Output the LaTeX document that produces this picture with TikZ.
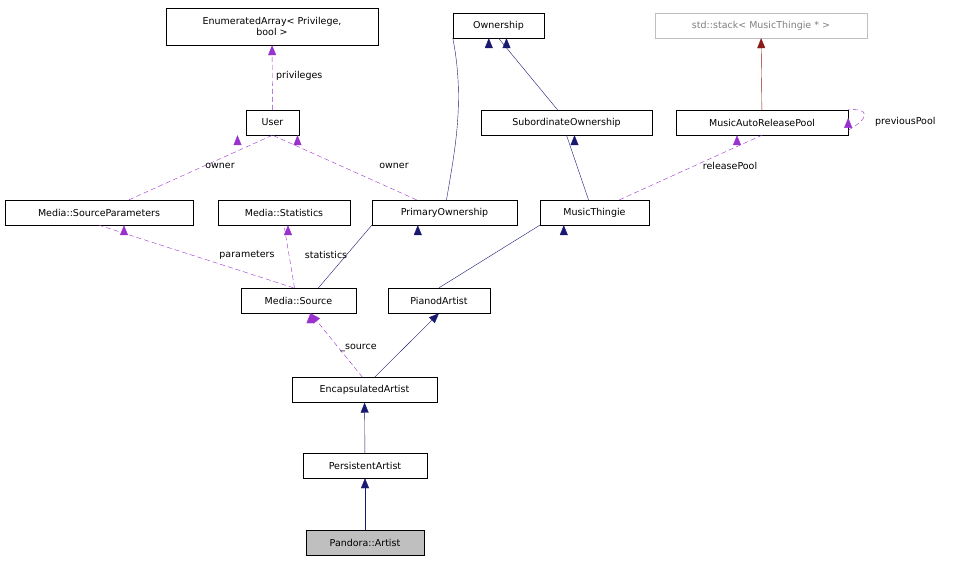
\documentclass[tikz,border=0pt]{standalone}
\usepackage{fontspec}
\setmainfont{DejaVu Sans}
\usetikzlibrary{arrows.meta}
\begin{document}
\begin{tikzpicture}[x=1pt,y=-1pt,
 box/.style={draw,rectangle,inner sep=0pt,minimum height=25pt,font=\fontsize{9.5}{11}\selectfont,fill=white},
 lbl/.style={font=\fontsize{9.5}{11}\selectfont,inner sep=1pt},
 inh/.style={draw={rgb,255:red,25;green,25;blue,112},-{Triangle[length=10pt,width=8pt]}},
 use/.style={draw={rgb,255:red,153;green,50;blue,204},dashed,dash pattern=on 5pt off 3pt,-{Triangle[length=10pt,width=8pt]}},
 tmpl/.style={draw={rgb,255:red,139;green,26;blue,26},-{Triangle[length=10pt,width=8pt]}}]
\useasboundingbox (0,0) rectangle (966,561);
\node[box,minimum width=212pt,minimum height=37pt,align=center] (ea) at (272,26.5) {EnumeratedArray< Privilege,\\bool >};
\node[box,minimum width=91pt] (own) at (498.5,25.5) {Ownership};
\node[box,minimum width=212pt,draw={rgb,255:red,191;green,191;blue,191},text={rgb,255:red,128;green,128;blue,128}] (stk) at (761,25.5) {std::stack< MusicThingie * >};
\node[box,minimum width=53pt] (user) at (272.5,122.5) {User};
\node[box,minimum width=171pt] (sub) at (566.5,122.5) {SubordinateOwnership};
\node[box,minimum width=172pt] (pool) at (762,122.5) {MusicAutoReleasePool};
\node[box,minimum width=188pt] (sp) at (99,212.5) {Media::SourceParameters};
\node[box,minimum width=132pt] (stat) at (284,212.5) {Media::Statistics};
\node[box,minimum width=145pt] (po) at (444.5,212.5) {PrimaryOwnership};
\node[box,minimum width=109pt] (mt) at (594.5,212.5) {MusicThingie};
\node[box,minimum width=115pt] (src) at (298.5,300.5) {Media::Source};
\node[box,minimum width=102pt] (pa) at (439,300.5) {PianodArtist};
\node[box,minimum width=145pt] (enc) at (364.5,390) {EncapsulatedArtist};
\node[box,minimum width=124pt] (pers) at (365,465.5) {PersistentArtist};
\node[box,minimum width=118pt,fill={rgb,255:red,191;green,191;blue,191}] (pan) at (365,542.5) {Pandora::Artist};

\draw[inh] (po.north) ++(2,0) .. controls (455,150) and (465,100) .. (own.south west) ++(36,0);
\draw[inh] (pan) -- (pers);
\draw[inh] (pers) -- (enc);
\draw[inh] (enc.north) ++(10,0) -- (pa.south);
\draw[inh] (pa.north) -- (mt.south west) ++(24,0);
\draw[inh] (src.north) ++(20,0) -- (po.south west) ++(46,0);
\draw[inh] (mt.north) ++(-6,0) -- (sub.south) ++(8,0);
\draw[inh] (sub.north) ++(-9,0) -- (own.south) ++(8,0);
\draw[tmpl] (pool) -- (stk);
\path[use] (enc.north) ++(-2,0) coordinate (e1) (src.south) ++(12,0) coordinate (s1);
\draw[use] (e1) -- (s1) node[lbl,pos=0.45,right] {\_source};
\draw[use] (src.north) ++(-5,0) -- (sp.south) ++(25,0) ;
\node[lbl] at (247,255) {parameters};
\draw[use] (src.north) ++(-4,0) -- (stat.south) ++(4,0);
\node[lbl] at (326,255) {statistics};
\draw[use] (sp.north) ++(30,0) -- (user.south) ++(-35,0);
\node[lbl] at (220,166) {owner};
\draw[use] (po.north) ++(-28,0) -- (user.south) ++(25,0);
\node[lbl] at (394,166) {owner};
\draw[use] (mt.north) ++(25,0) -- (pool.south) ++(-25,0);
\node[lbl] at (730,166) {releasePool};
\draw[use] (user) -- (ea);
\node[lbl,anchor=west] at (275,76) {privileges};
\draw[use] (pool.south east) ++(0,-5) .. controls (870,118) and (870,108) .. (pool.north east) ++(0,8);
\node[lbl,anchor=west] at (874,122) {previousPool};
\end{tikzpicture}
\end{document}
